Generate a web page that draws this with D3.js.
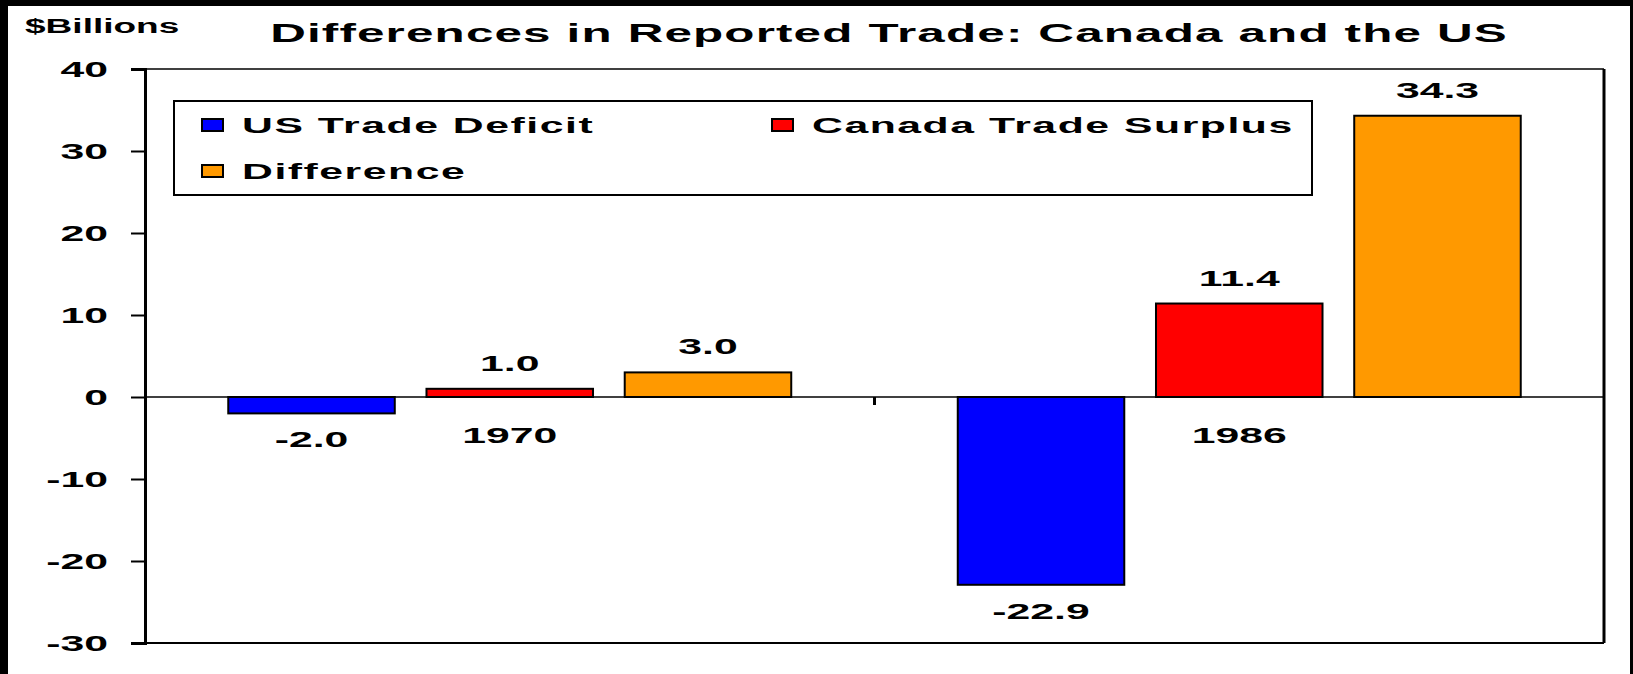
<!DOCTYPE html>
<html>
<head>
<meta charset="utf-8">
<script src="https://cdn.jsdelivr.net/npm/d3@7"></script>
<style>
  html, body { margin: 0; padding: 0; background: #000; }
  svg { display: block; }
  text { font-family: "Liberation Sans", Arial, sans-serif; font-weight: bold; fill: #000; }
</style>
</head>
<body>
<svg id="chart" width="1633" height="674"></svg>
<script>
// Data
var categories = ["1970", "1986"];
var seriesNames = ["US Trade Deficit", "Canada Trade Surplus", "Difference"];
var usTradeDeficit = [-2.0, -22.9];
var canadaTradeSurplus = [1.0, 11.4];
var difference = [3.0, 34.3];
var seriesColors = ["#0000ff", "#ff0000", "#ff9900"];
var yTicks = [-30, -20, -10, 0, 10, 20, 30, 40];

var seriesValues = [usTradeDeficit, canadaTradeSurplus, difference];

var W = 1633, H = 674;
var SX = 1.9; // the source picture is stretched sideways, so the text is too

var svg = d3.select("#chart");

// plain hyphen for negatives, like the original
function fmt(spec) {
    var f = d3.format(spec);
    return function(v) { return f(v).replace("\u2212", "-"); };
}

// frame: black band on top/left/right, white page
svg.append("rect").attr("width", W).attr("height", H).attr("fill", "#000");
svg.append("rect").attr("x", 8).attr("y", 6).attr("width", 1622).attr("height", H - 6).attr("fill", "#fff");

var plot = {left: 145, right: 1604, top: 69, bottom: 643};

var x0 = d3.scaleBand().domain(categories).range([plot.left, plot.right]).padding(0);
var x1 = d3.scaleBand().domain(seriesNames).range([0, x0.bandwidth()])
    .paddingInner(0.16).paddingOuter(0.42);
var y = d3.scaleLinear().domain([-30, 40]).range([plot.bottom, plot.top]);

// stretched text helper
function label(parent, str, x, yy, size, anchor, spacing) {
    return parent.append("text")
        .attr("transform", "translate(" + x + "," + yy + ") scale(" + SX + ",1)")
        .attr("text-anchor", anchor || "start")
        .style("font-size", size + "px")
        .style("letter-spacing", (spacing || 0) + "px")
        .text(str);
}

// title + unit
label(svg, "Differences in Reported Trade: Canada and the US", 889, 42, 26, "middle", 0.6);
label(svg, "$Billions", 25, 33, 19.5, "start", 0);

// plot frame (top + right + bottom), left axis drawn thicker
svg.append("line").attr("x1", plot.left).attr("x2", plot.right).attr("y1", plot.top).attr("y2", plot.top)
    .attr("stroke", "#000").attr("stroke-width", 1.5);
svg.append("line").attr("x1", plot.right).attr("x2", plot.right).attr("y1", plot.top).attr("y2", plot.bottom)
    .attr("stroke", "#000").attr("stroke-width", 3);
svg.append("line").attr("x1", plot.left).attr("x2", plot.right).attr("y1", plot.bottom).attr("y2", plot.bottom)
    .attr("stroke", "#000").attr("stroke-width", 2);

// y axis
var yAxis = d3.axisLeft(y).tickValues(yTicks).tickSize(14).tickFormat("");
var yg = svg.append("g").attr("transform", "translate(" + plot.left + ",0)").call(yAxis);
yg.select(".domain").attr("stroke-width", 3);
yg.selectAll(".tick line").attr("stroke-width", 2);
yTicks.forEach(function(t) {
    label(svg, fmt("d")(t), 108, y(t) + 8, 22.5, "end", 0);
});

// bars
var groups = svg.append("g").selectAll("g")
    .data(categories)
    .join("g")
    .attr("transform", function(d) { return "translate(" + x0(d) + ",0)"; });

groups.selectAll("rect")
    .data(function(d, i) {
        return seriesNames.map(function(s, j) {
            return {series: s, value: seriesValues[j][i], color: seriesColors[j]};
        });
    })
    .join("rect")
    .attr("x", function(d) { return x1(d.series); })
    .attr("width", x1.bandwidth())
    .attr("y", function(d) { return y(Math.max(0, d.value)); })
    .attr("height", function(d) { return Math.abs(y(d.value) - y(0)); })
    .attr("fill", function(d) { return d.color; })
    .attr("stroke", "#000")
    .attr("stroke-width", 2);

// zero line (category axis)
svg.append("line").attr("x1", plot.left).attr("x2", plot.right).attr("y1", y(0)).attr("y2", y(0))
    .attr("stroke", "#000").attr("stroke-width", 1.5);
// category boundary tick
categories.slice(1).forEach(function(c) {
    svg.append("line").attr("x1", x0(c)).attr("x2", x0(c)).attr("y1", y(0)).attr("y2", y(0) + 8)
        .attr("stroke", "#000").attr("stroke-width", 3);
});

// category labels
categories.forEach(function(c) {
    label(svg, c, x0(c) + x0.bandwidth() / 2, y(0) + 46, 22.5, "middle", 0);
});

// value labels
groups.each(function(c, i) {
    var g = d3.select(this);
    seriesNames.forEach(function(s, j) {
        var v = seriesValues[j][i];
        var cx = x1(s) + x1.bandwidth() / 2;
        var yy = v >= 0 ? y(v) - 18 : y(v) + 34;
        label(g, fmt(".1f")(v), cx, yy, 22.5, "middle", 0);
    });
});

// legend
var legend = svg.append("g");
legend.append("rect").attr("x", 174).attr("y", 101).attr("width", 1138).attr("height", 94)
    .attr("fill", "#fff").attr("stroke", "#000").attr("stroke-width", 2);
var legendPos = [[202, 133], [772, 133], [202, 179]];
seriesNames.forEach(function(s, j) {
    var p = legendPos[j];
    legend.append("rect").attr("x", p[0]).attr("y", p[1] - 14).attr("width", 21).attr("height", 12)
        .attr("fill", seriesColors[j]).attr("stroke", "#000").attr("stroke-width", 2);
    label(legend, s, p[0] + 40, p[1], 22.5, "start", 0.8);
});
</script>
</body>
</html>
